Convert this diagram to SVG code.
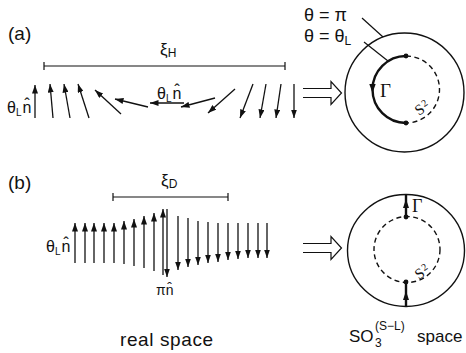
<svg xmlns="http://www.w3.org/2000/svg" width="466" height="353" viewBox="0 0 466 353">
<style>
text{font-family:"Liberation Sans",Arial,sans-serif;fill:#111}
.serif{font-family:"Liberation Serif","Times New Roman",serif}
.vec{stroke:#111;stroke-width:1.3;fill:none;marker-end:url(#ah)}
.thin{stroke:#111;stroke-width:1.2;fill:none}
.circ{stroke:#111;stroke-width:1.4;fill:none}
.dash{stroke:#111;stroke-width:1.4;fill:none;stroke-dasharray:5 3.5}
.thick{stroke:#111;stroke-width:2.4;fill:none}
</style>
<defs>
<marker id="ah" markerUnits="userSpaceOnUse" markerWidth="9" markerHeight="6" refX="8.5" refY="3" orient="auto">
<path d="M0,0 L8.5,3 L0,6 z" fill="#111"/>
</marker>
</defs>
<rect width="466" height="353" fill="#fff"/>

<g id="panel-a-labels">
<text x="8" y="40" font-size="19">(a)</text>
<text x="160" y="55" font-size="17">ξ<tspan font-size="12" dy="2">H</tspan></text>
<text x="7" y="113" font-size="16">θ<tspan font-size="10" dy="3">L</tspan><tspan dy="-3" dx="1">n̂</tspan></text>
<text x="157" y="99" font-size="16">θ<tspan font-size="10" dy="3">L</tspan><tspan dy="-3" dx="1">n̂</tspan></text>
<text x="304" y="21" font-size="18">θ = π</text>
<text x="304" y="42" font-size="18">θ = θ<tspan font-size="12" dy="3">L</tspan></text>
</g>

<g id="connectors">
<path class="thin" d="M44,66 H285 M44,62 V70 M285,62 V70"/>
<line class="vec" x1="35" y1="118" x2="35" y2="85"/>
<line class="vec" x1="53" y1="118" x2="50" y2="84"/>
<line class="vec" x1="70" y1="118" x2="64" y2="84"/>
<line class="vec" x1="89" y1="118" x2="78" y2="84"/>
<line class="vec" x1="121" y1="114" x2="95" y2="90"/>
<line class="vec" x1="148" y1="107" x2="115" y2="99"/>
<line class="vec" x1="184" y1="103" x2="150" y2="103"/>
<line class="vec" x1="215" y1="98" x2="181" y2="107"/>
<line class="vec" x1="235" y1="89" x2="208" y2="113"/>
<line class="vec" x1="253" y1="84" x2="240" y2="118"/>
<line class="vec" x1="266" y1="84" x2="260" y2="118"/>
<line class="vec" x1="281" y1="84" x2="276" y2="118"/>
<line class="vec" x1="294" y1="84" x2="294" y2="118"/>
<path class="thin" d="M303,88.5 H331 V81.5 L341.5,93 L331,104.5 V97.5 H303"/>
<path class="thin" d="M303,243.5 H331 V236.5 L341.5,248 L331,259.5 V252.5 H303"/>
<line class="thin" x1="362" y1="18" x2="383" y2="37"/>
<line class="thin" x1="364" y1="42" x2="388" y2="61"/>
<path class="thin" d="M113,197 H228 M113,193 V201 M228,193 V201"/>
<line class="vec" x1="75" y1="263" x2="75" y2="223"/>
<line class="vec" x1="85" y1="263" x2="85" y2="223"/>
<line class="vec" x1="94" y1="263" x2="94" y2="223"/>
<line class="vec" x1="104" y1="263" x2="104" y2="223"/>
<line class="vec" x1="114" y1="263" x2="114" y2="223"/>
<line class="vec" x1="124" y1="264" x2="124" y2="221"/>
<line class="vec" x1="134" y1="266" x2="134" y2="219"/>
<line class="vec" x1="144" y1="268" x2="144" y2="216"/>
<line class="vec" x1="154" y1="271" x2="154" y2="213"/>
<line class="vec" x1="163" y1="275" x2="163" y2="209"/>
<line class="vec" x1="167" y1="209" x2="167" y2="277"/>
<line class="vec" x1="178" y1="216" x2="178" y2="270"/>
<line class="vec" x1="188" y1="218" x2="188" y2="267"/>
<line class="vec" x1="198" y1="221" x2="198" y2="265"/>
<line class="vec" x1="208" y1="222" x2="208" y2="263"/>
<line class="vec" x1="218" y1="223" x2="218" y2="262"/>
<line class="vec" x1="228" y1="223" x2="228" y2="260"/>
<line class="vec" x1="238" y1="223" x2="238" y2="259"/>
<line class="vec" x1="248" y1="223" x2="248" y2="258"/>
<line class="vec" x1="258" y1="223" x2="258" y2="258"/>
<line class="vec" x1="267" y1="223" x2="267" y2="258"/>
</g>

<g id="sphere-a">
<circle class="circ" cx="404.5" cy="92.5" r="59.5"/>
<path class="thick" d="M406,56 A33.5,33.5 0 0 0 406,123"/>
<path class="dash" d="M406,56 A33.5,33.5 0 0 1 406,123"/>
<path d="M369.3,84 L375.7,84 L372.5,93 z" fill="#111"/>
<circle cx="406" cy="56" r="2.4" fill="#111"/>
<circle cx="406" cy="123" r="2.4" fill="#111"/>
<text class="serif" x="380" y="97" font-size="19">Γ</text>
<text class="serif" transform="translate(419,116) rotate(-35)" font-size="15">S<tspan font-size="10" dx="1" dy="-4">2</tspan></text>
</g>

<g id="panel-b-labels">
<text x="8" y="189" font-size="19">(b)</text>
<text x="161" y="186" font-size="17">ξ<tspan font-size="12" dy="2">D</tspan></text>
<text x="46" y="252" font-size="16">θ<tspan font-size="10" dy="3">L</tspan><tspan dy="-3" dx="1">n̂</tspan></text>
<text x="156" y="295" font-size="14">πn̂</text>
</g>

<g id="sphere-b">
<ellipse class="circ" cx="406" cy="250.5" rx="58.5" ry="56"/>
<circle class="dash" cx="407" cy="249.5" r="33"/>
<line class="thick" x1="406" y1="217" x2="406" y2="195"/>
<path d="M403,208 L409,208 L406,199 z" fill="#111"/>
<line class="thick" x1="406" y1="306" x2="406" y2="282"/>
<path d="M403,300 L409,300 L406,291 z" fill="#111"/>
<circle cx="406" cy="217" r="2.4" fill="#111"/>
<circle cx="406" cy="282" r="2.4" fill="#111"/>
<text class="serif" x="412" y="212" font-size="18">Γ</text>
<text class="serif" transform="translate(419,280) rotate(-35)" font-size="15">S<tspan font-size="10" dx="1" dy="-4">2</tspan></text>
</g>

<g id="captions">
<text x="120" y="346" font-size="19" letter-spacing="0.6">real space</text>
<text x="349" y="342" font-size="17">SO</text>
<text x="375" y="347" font-size="12">3</text>
<text x="375" y="330" font-size="12">(S−L)</text>
<text x="417" y="342" font-size="17">space</text>
</g>
</svg>
